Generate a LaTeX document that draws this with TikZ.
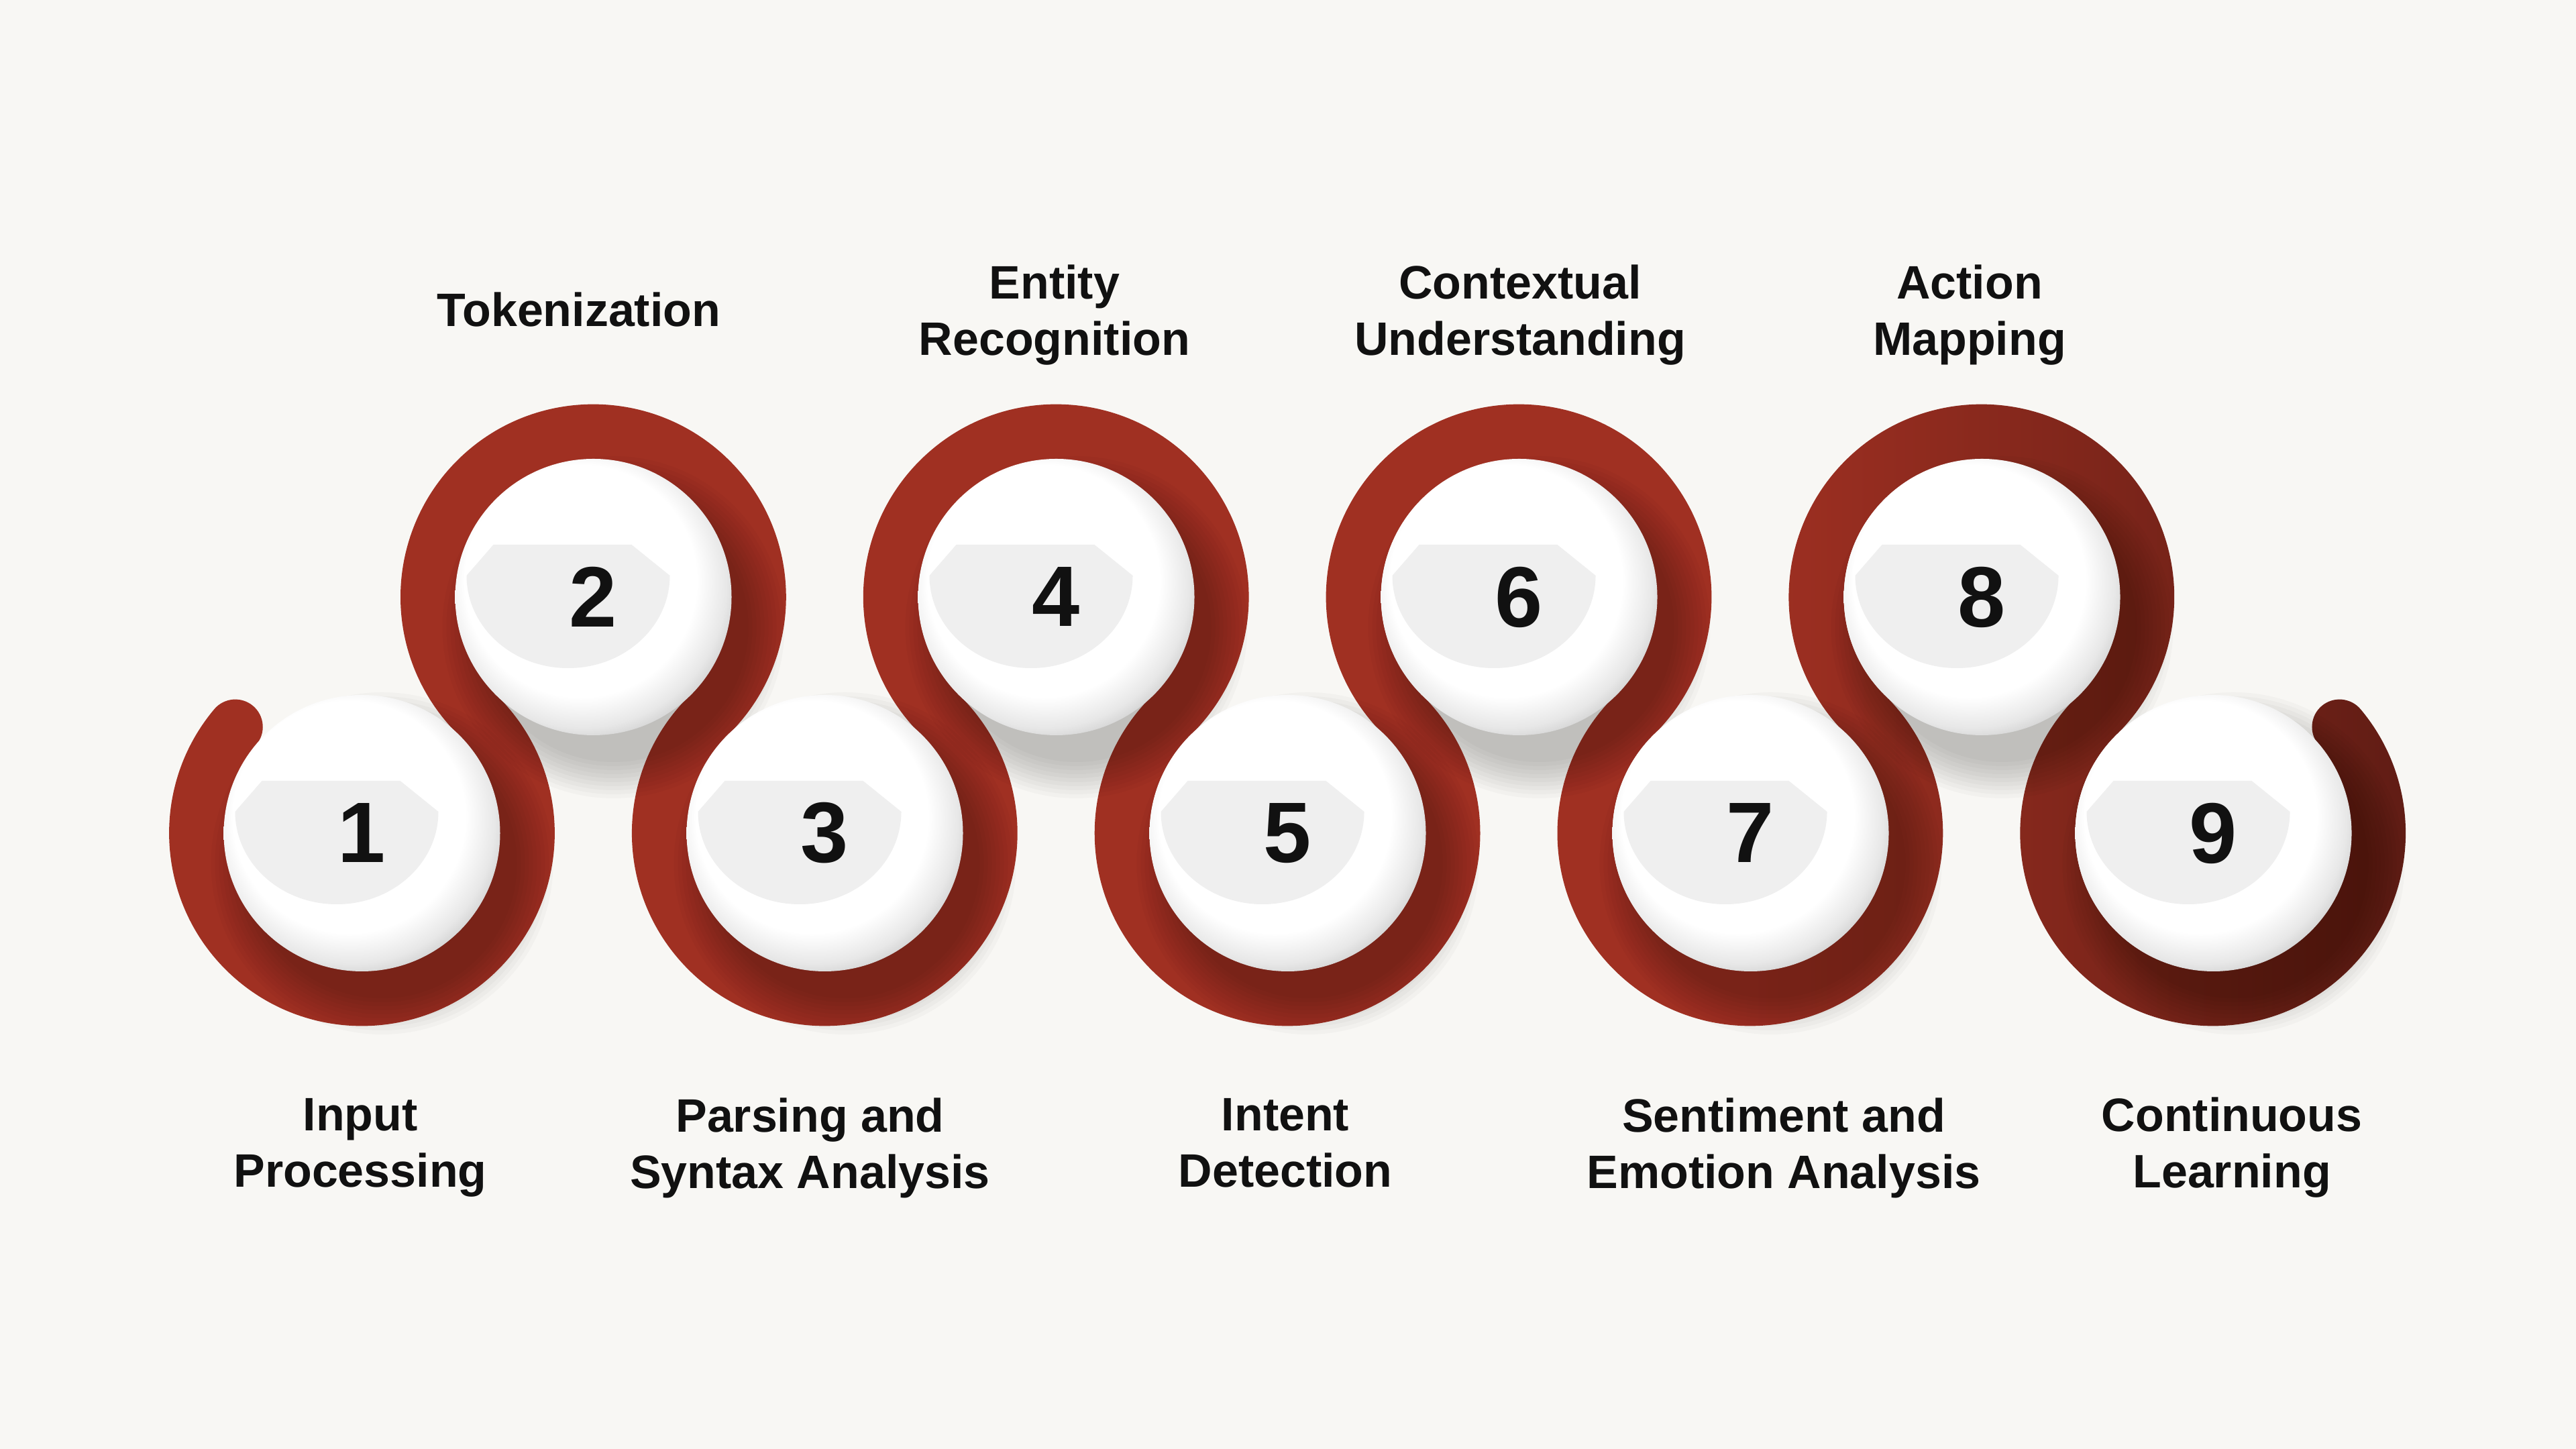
\documentclass[tikz,border=0pt]{standalone}
\usepackage{fontspec}
\setmainfont{Liberation Sans}
\usetikzlibrary{calc}
\definecolor{bgcream}{HTML}{F8F7F4}
\definecolor{ringred}{HTML}{A03022}
\definecolor{ringdark}{HTML}{5F1C14}
\definecolor{bandgrey}{HTML}{EFEFEF}
\definecolor{rimgrey}{HTML}{C4C4C4}
\definecolor{inkblack}{HTML}{111111}
\pgfdeclarehorizontalshading{ribbonshade}{100bp}{color(0bp)=(ringred); color(60bp)=(ringred); color(75bp)=(ringdark); color(100bp)=(ringdark)}
\pgfdeclareradialshading{pearlshade}{\pgfpoint{-4bp}{5bp}}{color(0bp)=(white); color(21bp)=(white); color(26bp)=(rimgrey!40!white); color(30bp)=(rimgrey); color(50bp)=(rimgrey)}
\tikzset{
	pearl/.style={shade,shading=pearlshade},
	band/.style={fill=bandgrey},
	digit/.style={circle,minimum size=4.12cm,inner sep=0pt,text=inkblack,font=\fontsize{36.4}{40}\selectfont\bfseries},
	caption/.style={align=center,text=inkblack,font=\fontsize{19.9}{23.9}\selectfont\bfseries}
}
\begin{document}
\begin{tikzpicture}[line join=round,line cap=round]
	\fill[bgcream] (0,0) rectangle (38.4,21.6);
	\useasboundingbox (0,0) rectangle (38.4,21.6);
	\def\a{45.58}
	\def\ro{2.874}
	\def\ri{2.054}
	\def\w{0.41}
	\pgfmathsetmacro\b{180-\a}
	\pgfmathsetmacro\aa{360+\a}
	\pgfmathsetmacro\cc{180+\a}
	\pgfmathsetmacro\na{-\a}
	\path
	\foreach \i in {1,...,9}{({5.395+3.45*(\i-1)},{9.18+3.52*(1-mod(\i,2))}) coordinate (c\i)}
	;
	\shade[shading=ribbonshade]
	($(c1)+(140:\ro)$) arc[start angle=140,end angle=\aa,radius=\ro]
	\foreach \k in {1,2,3}{arc[start angle=\cc,end angle=\na,radius=\ri] arc[start angle=\b,end angle=\aa,radius=\ro]}
	arc[start angle=\cc,end angle=\na,radius=\ri] arc[start angle=\b,end angle=400,radius=\ro]
	arc[start angle=40,end angle=220,radius=\w]
	arc[start angle=400,end angle=\b,radius=\ri]
	\foreach \k in {1,2,3}{arc[start angle=\na,end angle=\cc,radius=\ro] arc[start angle=\aa,end angle=\b,radius=\ri]}
	arc[start angle=\na,end angle=\cc,radius=\ro] arc[start angle=\aa,end angle=140,radius=\ri]
	arc[start angle=-40,end angle=140,radius=\w] -- cycle;
	\foreach \i in {1,...,9}{\foreach \k in {0,...,9} \fill[black,opacity=.025] ($(c\i)+(0.3,-0.45)$) circle ({2.55-0.06*\k});}
	\foreach \i in {1,...,9}{
		\shade[pearl] (c\i) circle (2.06);
		\fill[band] ($(c\i)+(-1.49,0.78)$) -- ($(c\i)+(0.57,0.78)$) -- ($(c\i)+(1.14,0.32)$)
			arc[start angle=0,end angle=-180,x radius=1.515,y radius=1.38] -- cycle;
		\node[digit] (b\i) at (c\i) {\i};
	}
	\foreach \i/\x/\y/\t in {
		1/5.37/4.49/{Input\\Processing},
		2/8.63/16.98/{Tokenization},
		3/12.075/4.49/{Parsing and\\Syntax Analysis},
		4/15.72/16.90/{Entity\\Recognition},
		5/19.16/4.565/{Intent\\Detection},
		6/22.66/16.90/{Contextual\\Understanding},
		7/26.59/4.49/{Sentiment and\\Emotion Analysis},
		8/29.36/16.90/{Action\\Mapping},
		9/33.27/4.49/{Continuous\\Learning}}
	\node[caption] (l\i) at (\x,\y) {\t};
\end{tikzpicture}
\end{document}
